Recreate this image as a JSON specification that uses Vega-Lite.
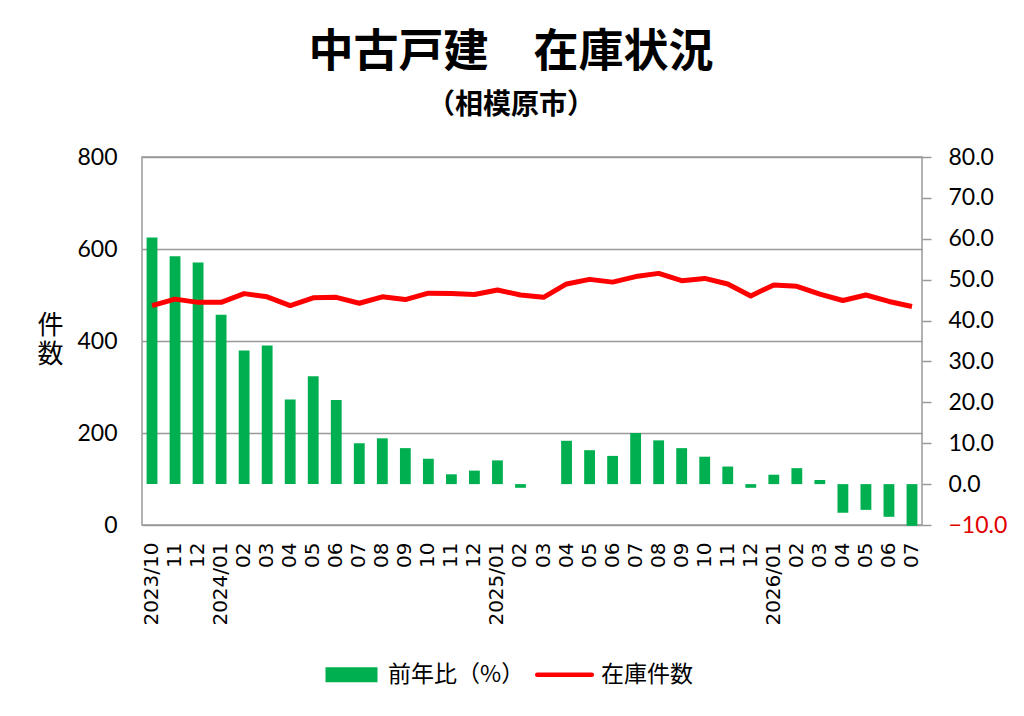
{
  "$schema": "https://vega.github.io/schema/vega-lite/v6.json",
  "autosize": {"type": "none"},
  "width": 780,
  "height": 368,
  "padding": {"left": 142, "top": 157, "right": 102, "bottom": 191},
  "background": "white",
  "title": {
    "text": "中古戸建　在庫状況",
    "subtitle": "（相模原市）",
    "font": "Noto Sans CJK JP",
    "fontSize": 45,
    "fontWeight": "bold",
    "color": "black",
    "subtitleFont": "Noto Sans CJK JP",
    "subtitleFontSize": 28,
    "subtitleFontWeight": "bold",
    "subtitleColor": "black",
    "subtitlePadding": 16,
    "anchor": "middle",
    "frame": "group",
    "dx": -21,
    "offset": 26
  },
  "data": {
    "values": [
      {"ym": "2023/10", "stock": 477, "pct": 60.3},
      {"ym": "2023/11", "stock": 491, "pct": 55.7},
      {"ym": "2023/12", "stock": 484, "pct": 54.2},
      {"ym": "2024/01", "stock": 484, "pct": 41.4},
      {"ym": "2024/02", "stock": 503, "pct": 32.7},
      {"ym": "2024/03", "stock": 496, "pct": 33.9},
      {"ym": "2024/04", "stock": 477, "pct": 20.7},
      {"ym": "2024/05", "stock": 494, "pct": 26.4},
      {"ym": "2024/06", "stock": 495, "pct": 20.6},
      {"ym": "2024/07", "stock": 482, "pct": 10.0},
      {"ym": "2024/08", "stock": 496, "pct": 11.2},
      {"ym": "2024/09", "stock": 490, "pct": 8.8},
      {"ym": "2024/10", "stock": 504, "pct": 6.2},
      {"ym": "2024/11", "stock": 503, "pct": 2.4},
      {"ym": "2024/12", "stock": 501, "pct": 3.3},
      {"ym": "2025/01", "stock": 511, "pct": 5.8},
      {"ym": "2025/02", "stock": 500, "pct": -0.9},
      {"ym": "2025/03", "stock": 495, "pct": 0},
      {"ym": "2025/04", "stock": 524, "pct": 10.6},
      {"ym": "2025/05", "stock": 534, "pct": 8.3},
      {"ym": "2025/06", "stock": 528, "pct": 6.9},
      {"ym": "2025/07", "stock": 540, "pct": 12.5},
      {"ym": "2025/08", "stock": 547, "pct": 10.7},
      {"ym": "2025/09", "stock": 531, "pct": 8.8},
      {"ym": "2025/10", "stock": 536, "pct": 6.7},
      {"ym": "2025/11", "stock": 524, "pct": 4.3},
      {"ym": "2025/12", "stock": 498, "pct": -0.9},
      {"ym": "2026/01", "stock": 522, "pct": 2.3},
      {"ym": "2026/02", "stock": 519, "pct": 3.9},
      {"ym": "2026/03", "stock": 502, "pct": 1.0},
      {"ym": "2026/04", "stock": 488, "pct": -7.0},
      {"ym": "2026/05", "stock": 500, "pct": -6.3},
      {"ym": "2026/06", "stock": 486, "pct": -8.0},
      {"ym": "2026/07", "stock": 475, "pct": -10.2}
    ]
  },
  "encoding": {
    "x": {
      "field": "ym",
      "type": "ordinal",
      "sort": null,
      "scale": {"paddingInner": 0.53, "paddingOuter": 0.2},
      "axis": {
        "title": null,
        "labelAngle": -90,
        "labelFont": "DejaVu Sans",
        "labelFontSize": 20,
        "labelColor": "black",
        "labelPadding": 17,
        "labelOverlap": false,
        "labelBound": false,
        "ticks": false,
        "domain": false,
        "labelExpr": "(datum.value == '2023/10' || slice(datum.value, 5) == '01') ? datum.value : slice(datum.value, 5)"
      }
    }
  },
  "layer": [
    {
      "mark": {"type": "bar", "color": "#00b050"},
      "encoding": {
        "y": {
          "field": "pct",
          "type": "quantitative",
          "scale": {"domain": [-10, 80], "nice": false, "zero": true},
          "axis": {
            "orient": "right",
            "title": null,
            "values": [-10, 0, 10, 20, 30, 40, 50, 60, 70, 80],
            "format": ".1f",
            "grid": false,
            "domain": false,
            "ticks": true,
            "tickColor": "#999999",
            "tickWidth": 1.5,
            "tickSize": 9,
            "labelPadding": 17,
            "labelFont": "Lato",
            "labelFontSize": 23,
            "labelColor": {"condition": {"test": "datum.value < 0", "value": "#e00000"}, "value": "black"}
          }
        },
        "color": {
          "datum": "前年比（%）",
          "type": "nominal",
          "scale": {"domain": ["前年比（%）", "在庫件数"], "range": ["#00b050", "#ff0000"]},
          "legend": {
            "orient": "none",
            "legendX": 198,
            "legendY": 506,
            "direction": "horizontal",
            "title": null,
            "symbolSize": 2704,
            "labelFont": "Noto Sans CJK JP",
            "labelFontSize": 23,
            "labelColor": "black",
            "labelOffset": 25,
            "columnPadding": 3,
            "labelLimit": 300,
            "encode": {
              "symbols": {
                "update": {
                  "shape": {"signal": "datum.value == '在庫件数' ? 'M-1.05,0H1.05' : 'M-1,-0.29H1V0.29H-1Z'"},
                  "fill": {"signal": "datum.value == '在庫件数' ? 'transparent' : '#00b050'"},
                  "stroke": {"signal": "datum.value == '在庫件数' ? '#ff0000' : 'transparent'"},
                  "strokeWidth": {"signal": "datum.value == '在庫件数' ? 4.5 : 0"},
                  "strokeCap": {"value": "round"},
                  "opacity": {"value": 1}
                }
              }
            }
          }
        }
      }
    },
    {
      "mark": {"type": "line", "color": "#ff0000", "strokeWidth": 5, "strokeJoin": "round"},
      "encoding": {
        "y": {
          "field": "stock",
          "type": "quantitative",
          "scale": {"domain": [0, 800], "nice": false},
          "axis": {
            "orient": "left",
            "values": [0, 200, 400, 600, 800],
            "title": ["件", "数"],
            "titleAngle": 0,
            "titleX": -92,
            "titleY": 155,
            "titleAlign": "center",
            "titleBaseline": "top",
            "titleFont": "Noto Sans CJK JP",
            "titleFontSize": 26,
            "titleFontWeight": "normal",
            "titleLineHeight": 29,
            "titleColor": "black",
            "grid": true,
            "gridColor": "#999999",
            "gridWidth": 1.5,
            "domain": false,
            "ticks": false,
            "labelPadding": 25,
            "labelFont": "Lato",
            "labelFontSize": 23,
            "labelColor": "black"
          }
        },
        "color": {"datum": "在庫件数", "type": "nominal"}
      }
    }
  ],
  "resolve": {"scale": {"y": "independent"}},
  "config": {
    "view": {"stroke": "#999999", "strokeWidth": 1.5}
  }
}
